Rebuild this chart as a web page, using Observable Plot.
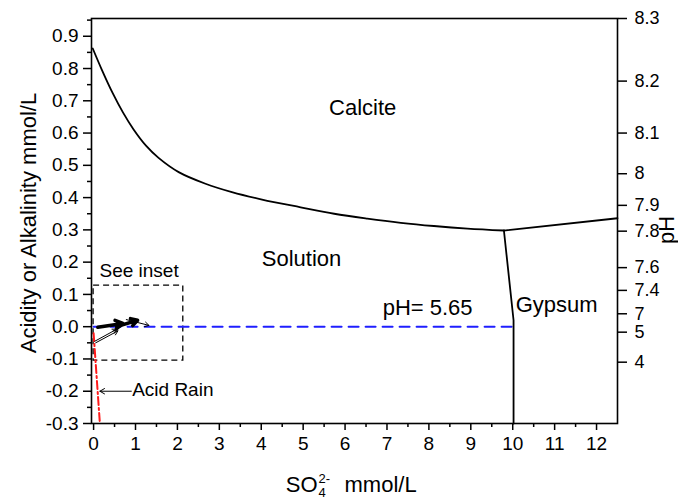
<!DOCTYPE html>
<html>
<head>
<meta charset="utf-8">
<script src="https://cdn.jsdelivr.net/npm/d3@7"></script>
<script src="https://cdn.jsdelivr.net/npm/@observablehq/plot@0.6"></script>
<style>
  body { margin: 0; background: white; }
</style>
</head>
<body>
<div id="chart"></div>
<script>
// Calcite saturation boundary (SO4 mmol/L vs acidity/alkalinity mmol/L)
const calciteX = [-0.02, 0.20, 0.45, 0.70, 0.95, 1.25, 1.55, 2.03, 2.67, 3.30, 4.02, 4.94, 5.74, 6.53, 7.33, 8.12, 8.92, 9.79];
const calciteY = [0.862, 0.795, 0.725, 0.664, 0.612, 0.561, 0.523, 0.479, 0.443, 0.417, 0.394, 0.370, 0.350, 0.335, 0.322, 0.312, 0.304, 0.298];
// Calcite + gypsum boundary (right of the triple point)
const upperX = [9.79, 12.5];
const upperY = [0.298, 0.336];
// Gypsum boundary
const gypsumX = [9.79, 10.02, 10.02];
const gypsumY = [0.298, 0.02, -0.3];
// pH = 5.65 line
const phLineX = [0, 10.02];
const phLineY = [0, 0];
// Acid rain line
const acidX = [0.0, 0.15];
const acidY = [-0.02, -0.3];
// Inset box
const insetBox = {x1: 0.0, x2: 2.14, y1: -0.105, y2: 0.127};
// Inset vectors
const thickX1 = [0.10, 0.55], thickY1 = [-0.002, 0.000];
const thickX2 = [0.70, 1.05], thickY2 = [0.010, 0.020];
const thinX1 = [0.78, 0.03, 0.05], thinY1 = [0.022, -0.045, -0.050];
const thinX2 = [1.32, 0.55, 0.58], thinY2 = [0.004, -0.008, -0.013];

// Axis ticks
const xTicks = [0,1,2,3,4,5,6,7,8,9,10,11,12];
const xMinor = [0.5,1.5,2.5,3.5,4.5,5.5,6.5,7.5,8.5,9.5,10.5,11.5];
const yTicks = [-0.3,-0.2,-0.1,0.0,0.1,0.2,0.3,0.4,0.5,0.6,0.7,0.8,0.9];
const yMinor = [-0.25,-0.15,-0.05,0.05,0.15,0.25,0.35,0.45,0.55,0.65,0.75,0.85,0.95];
// Right pH axis: positions (on alkalinity scale) and labels
const pHPos = [0.955, 0.761, 0.600, 0.474, 0.376, 0.296, 0.183, 0.1125, 0.040, -0.017, -0.110];
const pHLabels = ["8.3", "8.2", "8.1", "8", "7.9", "7.8", "7.6", "7.4", "7", "5", "4"];

// Labels
const regionLabels = ["Calcite", "Solution", "pH= 5.65"];
const regionX = [6.42, 4.96, 7.97];
const regionY = [0.655, 0.187, 0.035];

const zip = (a, b) => a.map((v, i) => ({x: v, y: b[i]}));
const seg = (x1, y1, x2, y2) => x1.map((v, i) => ({x1: v, y1: y1[i], x2: x2[i], y2: y2[i]}));

const chart = Plot.plot({
  width: 678,
  height: 500,
  marginLeft: 91,
  marginRight: 61,
  marginTop: 18,
  marginBottom: 77,
  style: {fontFamily: "'Liberation Sans', Arial, sans-serif", fontSize: "19px", color: "black", background: "white"},
  x: {domain: [-0.05, 12.5], axis: null},
  y: {domain: [-0.3, 0.955], axis: null},
  marks: [
    // axes
    Plot.axisX({ticks: xTicks, tickSize: 7, tickPadding: 6, tickFormat: d => String(d), fontSize: 19, strokeWidth: 1.5}),
    Plot.axisX({ticks: xMinor, tickSize: 4, tickFormat: () => "", strokeWidth: 1.5}),
    Plot.axisY({anchor: "left", ticks: yTicks, tickSize: 8, tickPadding: 5, tickFormat: d => d.toFixed(1), fontSize: 19, strokeWidth: 1.5}),
    Plot.axisY({anchor: "left", ticks: yMinor, tickSize: 4, tickFormat: () => "", strokeWidth: 1.5}),
    Plot.axisY({anchor: "right", ticks: pHPos, tickSize: 9, tickPadding: 8, tickFormat: d => pHLabels[pHPos.indexOf(d)], fontSize: 18, strokeWidth: 1.5}),
    // inset box
    Plot.rect([insetBox], {x1: "x1", x2: "x2", y1: "y1", y2: "y2", fill: "none", stroke: "black", strokeWidth: 1.3, strokeDasharray: "6,4"}),
    // pH line
    Plot.line(zip(phLineX, phLineY), {x: "x", y: "y", stroke: "#1f1fff", strokeWidth: 2, strokeDasharray: "10,7"}),
    // acid rain line
    Plot.line(zip(acidX, acidY), {x: "x", y: "y", stroke: "#ff1a1a", strokeWidth: 2, strokeDasharray: "8,3,2,3"}),
    // boundaries
    Plot.line(zip(calciteX, calciteY), {x: "x", y: "y", curve: "catmull-rom", stroke: "black", strokeWidth: 1.8}),
    Plot.line(zip(upperX, upperY), {x: "x", y: "y", stroke: "black", strokeWidth: 1.8}),
    Plot.line(zip(gypsumX, gypsumY), {x: "x", y: "y", stroke: "black", strokeWidth: 1.8}),
    // inset vectors
    Plot.arrow(seg(thickX1, thickY1, thickX2, thickY2), {x1: "x1", y1: "y1", x2: "x2", y2: "y2", stroke: "black", strokeWidth: 3.5, headLength: 6}),
    Plot.arrow(seg(thinX1, thinY1, thinX2, thinY2), {x1: "x1", y1: "y1", x2: "x2", y2: "y2", stroke: "black", strokeWidth: 1, headLength: 7}),
    // acid rain arrow
    Plot.arrow([{x1: 0.9, x2: 0.15, y: -0.2}], {x1: "x1", x2: "x2", y1: "y", y2: "y", stroke: "black", strokeWidth: 1, headLength: 8}),
    // frame
    Plot.frame({stroke: "black", strokeWidth: 1.6}),
    // labels
    Plot.text(regionLabels, {x: (d, i) => regionX[i], y: (d, i) => regionY[i], text: d => d, fontSize: 22, lineAnchor: "bottom", textAnchor: "middle"}),
    Plot.text(["Gypsum"], {x: 10.07, y: 0.045, text: d => d, fontSize: 22, lineAnchor: "bottom", textAnchor: "start"}),
    Plot.text(["See inset"], {x: 0.14, y: 0.153, text: d => d, fontSize: 19, lineAnchor: "bottom", textAnchor: "start"}),
    Plot.text(["Acid Rain"], {x: 0.92, y: -0.216, text: d => d, fontSize: 19, lineAnchor: "bottom", textAnchor: "start"}),
    // axis titles
    Plot.text(["Acidity or Alkalinity mmol/L"], {frameAnchor: "left", dx: -56, dy: 2, rotate: -90, text: d => d, fontSize: 22, lineAnchor: "bottom", textAnchor: "middle"}),
    Plot.text(["pH"], {frameAnchor: "right", dx: 56, dy: 9, rotate: -90, text: d => d, fontSize: 22, lineAnchor: "bottom", textAnchor: "middle"}),
    Plot.text(["SO"], {frameAnchor: "bottom", dx: -37, dy: 68, text: d => d, fontSize: 22, lineAnchor: "bottom", textAnchor: "end"}),
    Plot.text(["2-"], {frameAnchor: "bottom", dx: -36, dy: 59, text: d => d, fontSize: 13, lineAnchor: "bottom", textAnchor: "start"}),
    Plot.text(["4"], {frameAnchor: "bottom", dx: -36, dy: 73, text: d => d, fontSize: 13, lineAnchor: "bottom", textAnchor: "start"}),
    Plot.text(["mmol/L"], {frameAnchor: "bottom", dx: -10, dy: 68, text: d => d, fontSize: 22, lineAnchor: "bottom", textAnchor: "start"})
  ]
});
document.getElementById("chart").appendChild(chart);
</script>
</body>
</html>
